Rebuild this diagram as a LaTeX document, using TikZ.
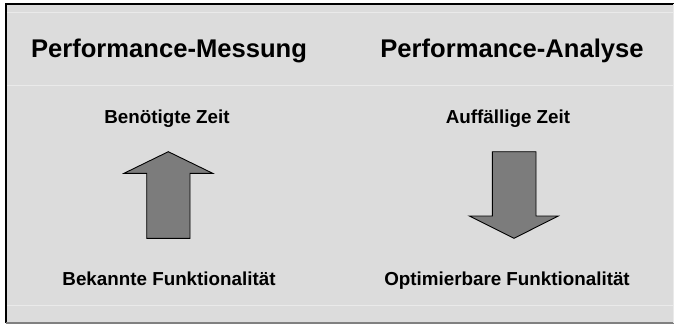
\documentclass[tikz,border=0pt]{standalone}
\usepackage{fontspec}
\setmainfont{Liberation Sans}
\definecolor{panel}{HTML}{DCDCDC}
\definecolor{seam}{HTML}{EAEAEA}
\definecolor{arrowfill}{HTML}{7C7C7C}
\begin{document}
\begin{tikzpicture}[x=1pt,y=-1pt,
  title/.style={font=\fontsize{25.6}{30}\selectfont\bfseries, anchor=base, inner sep=0pt},
  label/.style={font=\fontsize{18.8}{22}\selectfont\bfseries, anchor=base, inner sep=0pt},
  bigarrow/.style={fill=arrowfill, draw=black, line width=0.9pt, line join=miter}]
\useasboundingbox (0,0) rectangle (674,324);
\fill[white] (0,0) rectangle (674,324);
\fill[panel] (6,4) rectangle (674,323);
\draw[seam, line width=1pt] (7,12) -- (674,12);
\draw[seam, line width=1pt] (7,85) -- (674,85);
\draw[seam, line width=1pt] (7,305) -- (674,305);
\draw[black, line width=2pt] (6,323) -- (6,4) -- (674,4);
\draw[gray, line width=1.2pt] (6,323) -- (674,323);
\draw[seam, line width=0.8pt] (673,4) -- (673,323);

\node[title] (t1) at (169,57) {Performance-Messung};
\node[title] (t2) at (512,57) {Performance-Analyse};

\node[label] (a1) at (167,123) {Benötigte Zeit};
\node[label] (a2) at (508,123) {Auffällige Zeit};
\node[label] (b1) at (169,285) {Bekannte Funktionalität};
\node[label] (b2) at (507,285) {Optimierbare Funktionalität};

\draw[bigarrow] (146.7,238.3) -- (146.7,173.3) -- (124,173.3) -- (168.3,151.7)
  -- (212.7,173.3) -- (190,173.3) -- (190,238.3) -- cycle;
\draw[bigarrow] (492.3,151.7) -- (536,151.7) -- (536,216) -- (558.3,216)
  -- (514,238.3) -- (469.3,216) -- (492.3,216) -- cycle;
\end{tikzpicture}
\end{document}
